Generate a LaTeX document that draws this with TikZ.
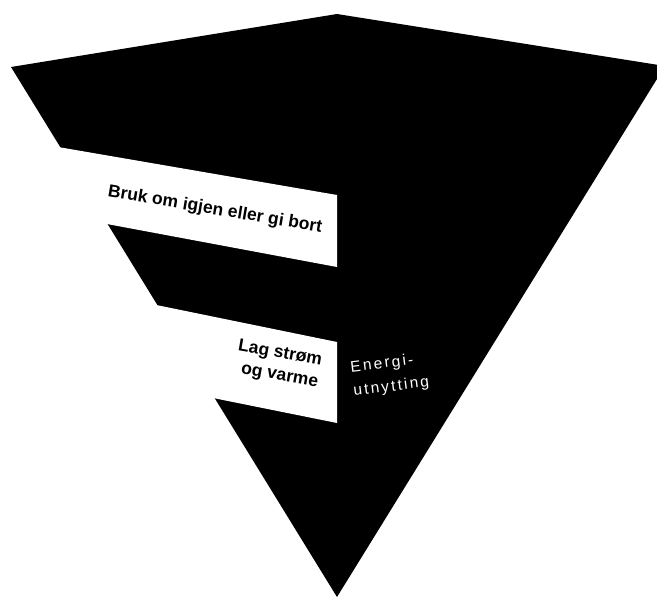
\documentclass[tikz,border=0pt]{standalone}
\usepackage{fontspec}
\setmainfont{Liberation Sans}
\newfontfamily\lightfont[LetterSpace=14]{Liberation Sans}
\begin{document}
\begin{tikzpicture}[x=1pt,y=-1pt,
  bandtext/.style={text=black, inner sep=0pt},
  sidetext/.style={text=white, inner sep=0pt, align=left}]
\useasboundingbox[fill=white] (0,0) rectangle (657,598);
\begin{scope}
\clip (0,0) rectangle (657,598);
% main inverted pyramid
\coordinate (L) at (11,67);
\coordinate (T) at (337,14);
\coordinate (R) at (665,66);
\coordinate (B) at (337,597);
\fill[black] (L) -- (T) -- (R) -- (B) -- cycle;
% white bands
\fill[white] (0,137) -- (337,195) -- (337,267) -- (0,204) -- cycle;
\fill[white] (0,273) -- (337,342) -- (337,423) -- (0,355) -- cycle;
\end{scope}
% labels
\node[bandtext, font=\bfseries\fontsize{17.5}{20}\selectfont, rotate=-9.5] (t1) at (215,210) {Bruk om igjen eller gi bort};
\node[bandtext, font=\bfseries\fontsize{17.5}{22}\selectfont, align=right, anchor=east, rotate=-10] (t2) at (320,372) {Lag strøm\\og varme};
\node[sidetext, font=\lightfont\fontsize{15.5}{24}\selectfont, anchor=west, rotate=7] (t3) at (352,380) {Energi-\\utnytting};
\end{tikzpicture}
\end{document}
